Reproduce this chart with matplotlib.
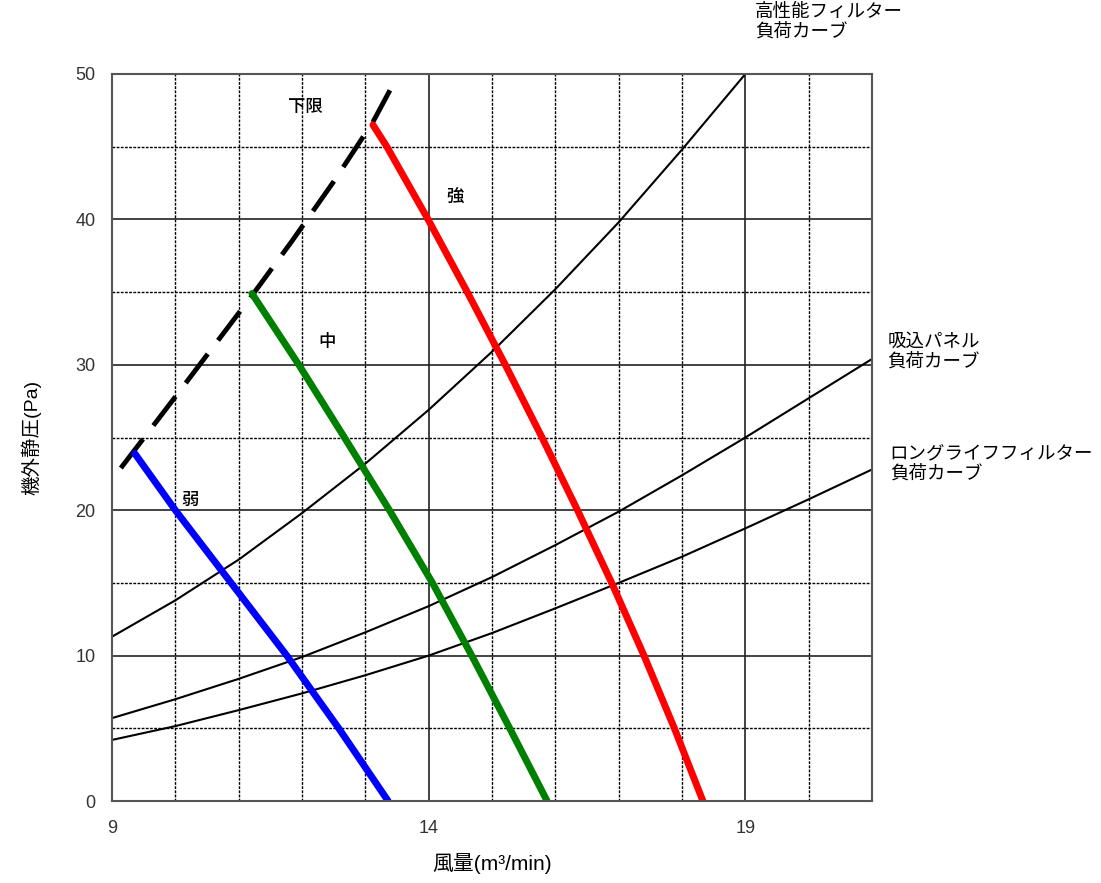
import matplotlib
matplotlib.use("Agg")
import matplotlib.pyplot as plt
import numpy as np

plt.rcParams['font.family'] = ['Liberation Sans', 'Noto Sans CJK JP', 'DejaVu Sans']

# 負荷カーブ (風量 m3/min -> 機外静圧 Pa)
q_curve = [9, 10, 11, 12, 13, 14, 15, 16, 17, 18, 19, 20, 21]
p_high = [11.3, 13.8, 16.6, 19.8, 23.2, 26.9, 30.9, 35.2, 39.8, 44.8, 50.0]
p_panel = [5.7, 7.0, 8.4, 9.9, 11.6, 13.4, 15.4, 17.6, 19.9, 22.4, 25.0, 27.7, 30.4]
p_long = [4.2, 5.15, 6.25, 7.4, 8.65, 10.0, 11.55, 13.25, 15.0, 16.8, 18.75, 20.75, 22.8]

# ファン特性
q_weak = [9.36, 10.0, 10.88, 11.76, 12.58, 13.36]
p_weak = [23.9, 20, 15, 10, 5, 0]
q_mid = [11.21, 11.95, 12.67, 13.38, 14.06, 14.68, 15.28, 15.87]
p_mid = [34.9, 30, 25, 20, 15, 10, 5, 0]
q_strong = [13.12, 13.34, 13.99, 14.61, 15.21, 15.79, 16.35, 16.89, 17.4, 17.88, 18.33]
p_strong = [46.5, 45, 40, 35, 30, 25, 20, 15, 10, 5, 0]

# 下限
q_low = [9.14, 10.0, 11.2, 11.84, 12.5, 13.12, 13.44]
p_low = [22.9, 27.8, 34.7, 38.5, 42.6, 46.7, 49.3]

fig = plt.figure(figsize=(11.01, 8.83), dpi=100)
ax = fig.add_axes([112/1101, 82/883, 760/1101, 727/883])

ax.set_xlim(9, 21)
ax.set_ylim(0, 50)
ax.set_xticks([9, 14, 19])
ax.set_xticks(np.arange(9, 22, 1), minor=True)
ax.set_yticks(np.arange(0, 51, 10))
ax.set_yticks(np.arange(5, 50, 10), minor=True)
ax.grid(which='major', color='#222222', lw=1.2, ls='-')
ax.grid(which='minor', color='black', lw=1.0, ls=(0, (2, 1)))
ax.tick_params(which='both', length=0, labelsize=13, colors='#333333')
ax.tick_params(axis='x', pad=14)
ax.tick_params(axis='y', pad=12)
for s in ax.spines.values():
    s.set_color('#555555')
    s.set_linewidth(1.5)

ax.plot(q_curve[:len(p_high)], p_high, color='black', lw=1.5)
ax.plot(q_curve, p_panel, color='black', lw=1.5)
ax.plot(q_curve, p_long, color='black', lw=1.5)

ax.plot(q_low, p_low, color='black', lw=3.5, dashes=(7.5, 3.5), clip_on=False)
ax.plot(q_weak, p_weak, color='#0000ff', lw=5, solid_capstyle='round')
ax.plot(q_mid, p_mid, color='#008000', lw=5, solid_capstyle='round')
ax.plot(q_strong, p_strong, color='#ff0000', lw=5, solid_capstyle='round')

lab = dict(fontsize=12.5, ha='center', va='center', family=['Noto Sans CJK JP'],
           fontweight='medium')
ax.text(12.05, 47.7, '下限', **lab)
ax.text(14.42, 41.5, '強', **lab)
ax.text(12.4, 31.6, '中', **lab)
ax.text(10.23, 20.7, '弱', **lab)

side = dict(fontsize=13.3, ha='left', va='top', linespacing=1.1,
            family=['Noto Sans CJK JP'], clip_on=False)
ax.text(19.15, 54.9, '高性能フィルター\n負荷カーブ', **side)
ax.text(21.24, 32.2, '吸込パネル\n負荷カーブ', **side)
ax.text(21.28, 24.5, 'ロングライフフィルター\n負荷カーブ', **side)

ax.set_xlabel('風量(m³/min)', fontsize=15, labelpad=11)
ax.set_ylabel('機外静圧(Pa)', fontsize=14, labelpad=24)

fig.savefig('out.png', dpi=100)
